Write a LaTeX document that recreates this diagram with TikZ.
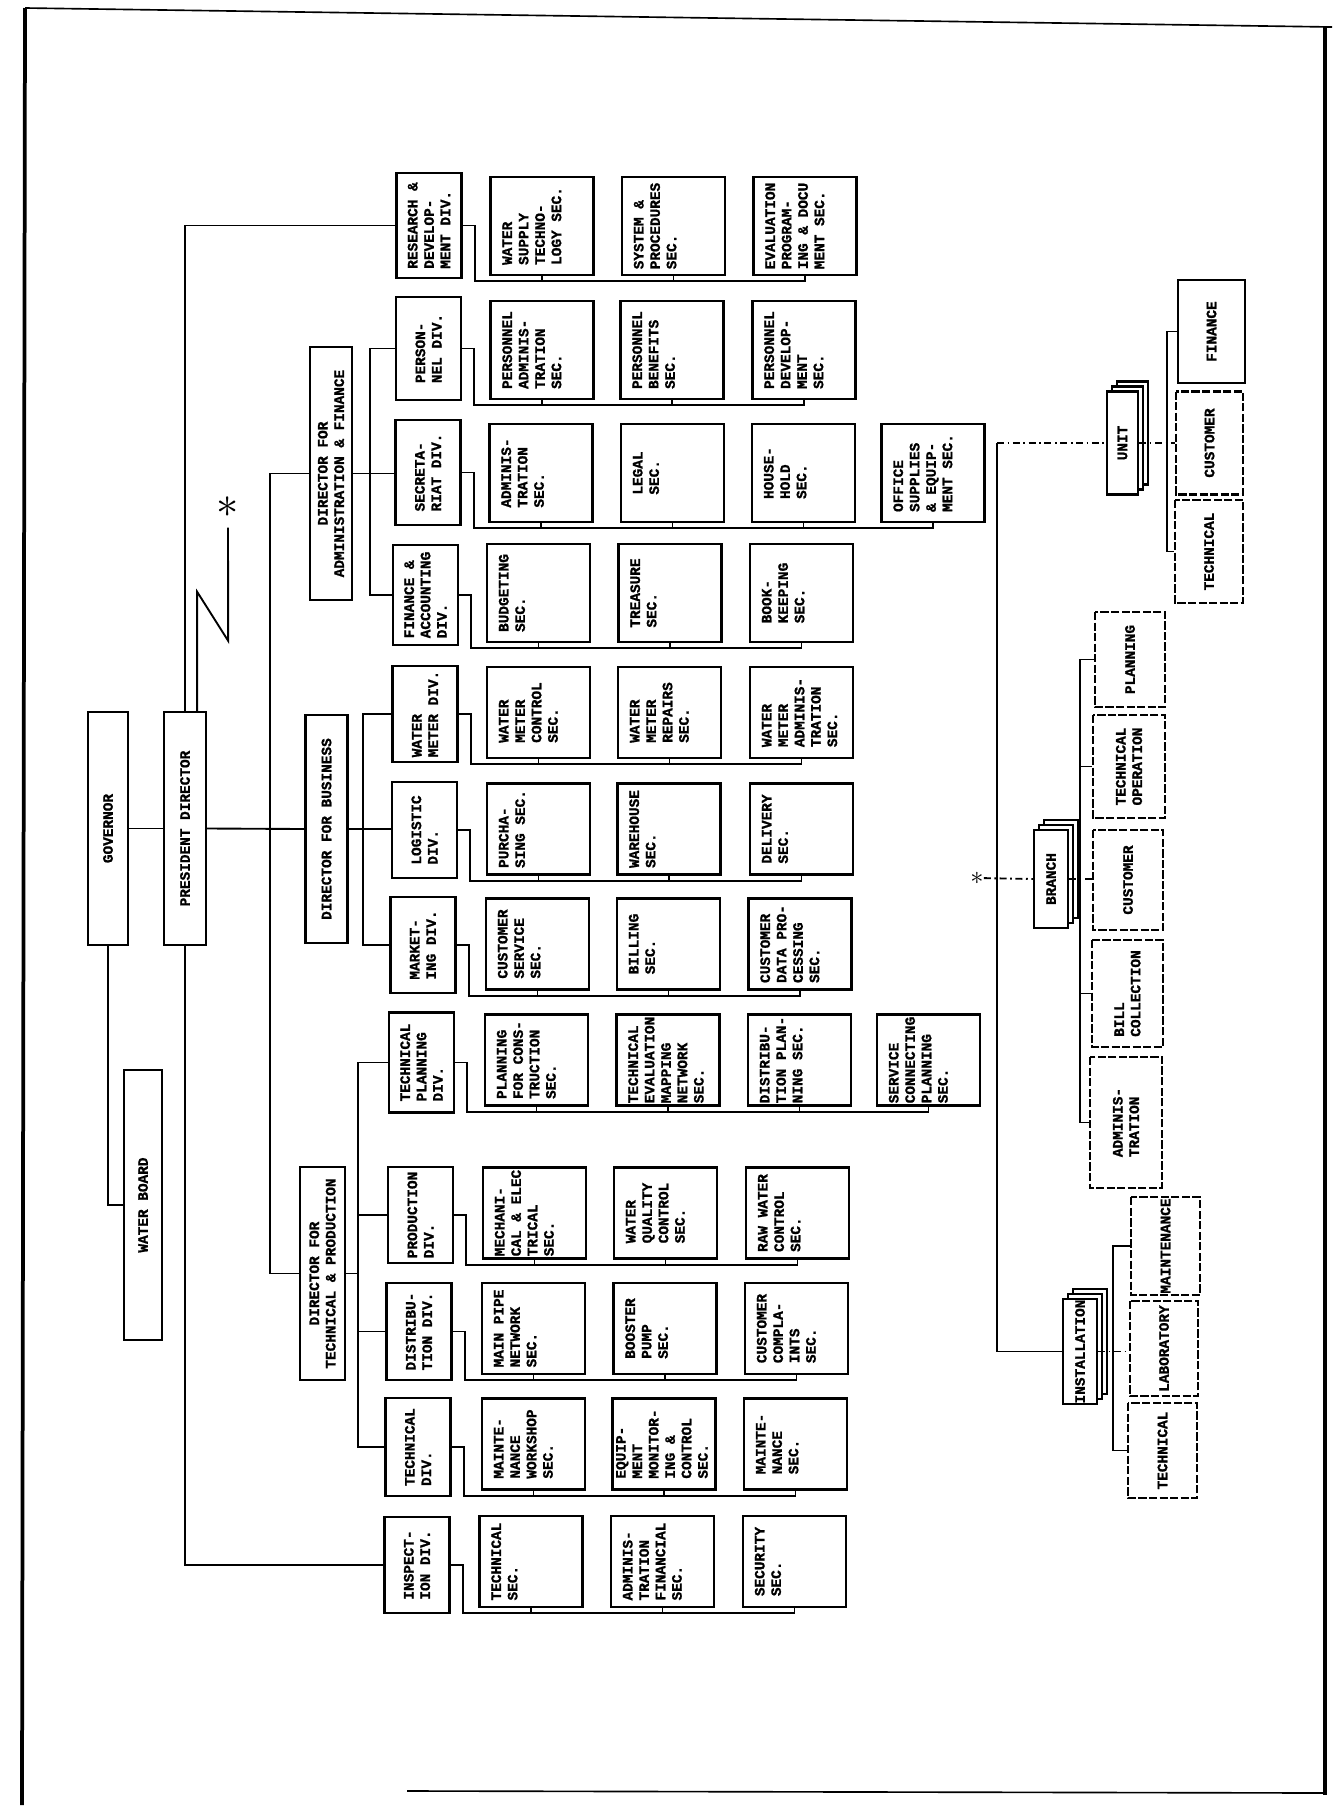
\documentclass[tikz,border=0pt]{standalone}
\usepackage{fontspec}
\newfontfamily\orgfam{Liberation Mono}[BoldFeatures={FakeBold=1.2}]
\usetikzlibrary{calc, shadows}

\newcommand{\orgfont}{\orgfam\bfseries\fontsize{12.3}{14}\selectfont}
\newcommand{\secblock}[3]{\parbox[c][3.09cm][t]{#1}{\vspace{#2}\centering\begin{tabular}{@{}l@{}}#3\end{tabular}}}
\newcommand{\sectxt}[1]{\secblock{2.73cm}{0.3cm}{#1}}
\newcommand{\sectall}[1]{\secblock{2.94cm}{0.3cm}{#1}}
\newcommand{\secsix}[1]{\secblock{2.73cm}{0.05cm}{#1}}

\tikzset{
  box/.style={draw, line width=2pt, rotate=90, fill=white, font=\orgfont, inner sep=1pt},
  head/.style={box, align=center, minimum height=1.26cm},
  div/.style={box, align=left, minimum width=3cm, minimum height=1.95cm},
  sec/.style={draw, line width=2pt, rotate=90, inner sep=0pt, font=\orgfont},
  subbox/.style={div, dash pattern=on 7pt off 2pt},
  stack/.style={box, align=center, inner sep=0pt,
    double copy shadow={shadow xshift=0.15cm, shadow yshift=0.15cm}},
  link/.style={line width=1.6pt},
  dotlink/.style={link, dash pattern=on 6pt off 3pt on 1.5pt off 3pt}
}

\begin{document}
\begin{tikzpicture}[x=0.03cm, y=-0.03cm]
  \useasboundingbox (0,0) rectangle (1332,1814);
  \draw[line width=1.4pt] (25,8) -- (1332,27);
  \draw[line width=3.2pt] (25,8) -- (22,1805);
  \draw[line width=3.2pt] (1325,27) -- (1325,1795);
  \draw[line width=1.4pt] (407,1791) -- (1325,1793);

  \node[head, minimum width=6.99cm, minimum height=1.2cm] (gov) at (108,828.5) {GOVERNOR};
  \node[head, minimum width=6.99cm] (pres) at (185,828.5) {PRESIDENT DIRECTOR};
  \node[head, minimum width=8.1cm, minimum height=1.14cm] (wb) at (143,1205) {WATER BOARD};
  \node[head, minimum width=7.59cm] (dadm) at (331,473.5) {DIRECTOR FOR\\ADMINISTRATION \& FINANCE};
  \node[head, minimum width=6.84cm] (dbus) at (326.5,829) {DIRECTOR FOR BUSINESS};
  \node[head, minimum width=6.39cm, minimum height=1.35cm] (dtec) at (322.5,1273.5) {DIRECTOR FOR\\TECHNICAL \& PRODUCTION};
  \node[inner sep=0pt] (ast1) at (228,507) {\scalebox{2.2}{\LARGE$\ast$}};

  \node[div, minimum width=3.15cm] (rd) at (429,225.5) {RESEARCH \&\\DEVELOP-\\MENT DIV.};
  \node[div, minimum width=3.09cm] (pe) at (428.5,348.5) {PERSON-\\NEL DIV.};
  \node[div, minimum width=3.15cm] (se) at (428,472.5) {SECRETA-\\RIAT DIV.};
  \node[div] (fa) at (425.5,595) {FINANCE \&\\ACCOUNTING\\DIV.};
  \node[div, minimum width=2.88cm] (wm) at (425,714) {WATER\\METER DIV.};
  \node[div, minimum width=2.88cm] (lo) at (424.5,830) {LOGISTIC\\DIV.};
  \node[div, minimum width=2.88cm] (mk) at (423,945) {MARKET-\\ING DIV.};
  \node[div] (tp) at (421.5,1062.5) {TECHNICAL\\PLANNING\\DIV.};
  \node[div, minimum width=2.88cm] (pr) at (420.5,1215) {PRODUCTION\\DIV.};
  \node[div, minimum width=2.91cm] (di) at (419,1331.5) {DISTRIBU-\\TION DIV.};
  \node[div, minimum width=2.94cm] (te) at (418,1447) {TECHNICAL\\DIV.};
  \node[div, minimum width=2.88cm] (ins) at (417,1565) {INSPECT-\\ION DIV.};

  \node[sec] (rd1) at (542,226) {\sectall{WATER\\SUPPLY\\TECHNO-\\LOGY SEC.}};
  \node[sec] (rd2) at (673.5,226) {\sectall{SYSTEM \&\\PROCEDURES\\SEC.}};
  \node[sec] (rd3) at (805,226) {\sectall{EVALUATION\\PROGRAM-\\ING \& DOCU\\MENT SEC.}};
  \node[sec] (pe1) at (542,350) {\sectall{PERSONNEL\\ADMINIS-\\TRATION\\SEC.}};
  \node[sec] (pe2) at (672,350) {\sectall{PERSONNEL\\BENEFITS\\SEC.}};
  \node[sec] (pe3) at (804,350) {\sectall{PERSONNEL\\DEVELOP-\\MENT\\SEC.}};
  \node[sec] (se1) at (541,473) {\sectall{ADMINIS-\\TRATION\\SEC.}};
  \node[sec] (se2) at (672.5,473) {\sectall{LEGAL\\SEC.}};
  \node[sec] (se3) at (803.5,473) {\sectall{HOUSE-\\HOLD\\SEC.}};
  \node[sec] (se4) at (933,473) {\sectall{OFFICE\\SUPPLIES\\\& EQUIP-\\MENT SEC.}};
  \node[sec] (fa1) at (538.5,593) {\sectall{BUDGETING\\SEC.}};
  \node[sec] (fa2) at (670,593) {\sectall{TREASURE\\SEC.}};
  \node[sec] (fa3) at (801.5,593) {\sectall{BOOK-\\KEEPING\\SEC.}};
  \node[sec] (wm1) at (538.5,712.5) {\sectxt{WATER\\METER\\CONTROL\\SEC.}};
  \node[sec] (wm2) at (669.5,712.5) {\sectxt{WATER\\METER\\REPAIRS\\SEC.}};
  \node[sec] (wm3) at (801.5,712.5) {\sectxt{WATER\\METER\\ADMINIS-\\TRATION\\SEC.}};
  \node[sec] (lo1) at (538.5,829) {\sectxt{PURCHA-\\SING SEC.}};
  \node[sec] (lo2) at (669,829) {\sectxt{WAREHOUSE\\SEC.}};
  \node[sec] (lo3) at (801.5,829) {\sectxt{DELIVERY\\SEC.}};
  \node[sec] (mk1) at (537.5,944) {\sectxt{CUSTOMER\\SERVICE\\SEC.}};
  \node[sec] (mk2) at (668.5,944) {\sectxt{BILLING\\SEC.}};
  \node[sec] (mk3) at (800,944) {\sectxt{CUSTOMER\\DATA PRO-\\CESSING\\SEC.}};
  \node[sec] (tp1) at (536.5,1060) {\sectxt{PLANNING\\FOR CONS-\\TRUCTION\\SEC.}};
  \node[sec] (tp2) at (668,1060) {\sectxt{TECHNICAL\\EVALUATION\\MAPPING\\NETWORK\\SEC.}};
  \node[sec] (tp3) at (799.5,1060) {\sectxt{DISTRIBU-\\TION PLAN-\\NING SEC.}};
  \node[sec] (tp4) at (928.5,1060) {\sectxt{SERVICE\\CONNECTING\\PLANNING\\SEC.}};
  \node[sec] (pr1) at (534.5,1213) {\sectxt{MECHANI-\\CAL \& ELEC\\TRICAL\\SEC.}};
  \node[sec] (pr2) at (665.5,1213) {\sectxt{WATER\\QUALITY\\CONTROL\\SEC.}};
  \node[sec] (pr3) at (797.5,1213) {\sectxt{RAW WATER\\CONTROL\\SEC.}};
  \node[sec] (di1) at (533.5,1328.5) {\sectxt{MAIN PIPE\\NETWORK\\SEC.}};
  \node[sec] (di2) at (665,1328.5) {\sectxt{BOOSTER\\PUMP\\SEC.}};
  \node[sec] (di3) at (796.5,1328.5) {\sectxt{CUSTOMER\\COMPLA-\\INTS\\SEC.}};
  \node[sec] (te1) at (533.5,1444) {\sectxt{MAINTE-\\NANCE\\WORKSHOP\\SEC.}};
  \node[sec] (te2) at (664,1444) {\secsix{EQUIP-\\MENT\\MONITOR-\\ING \&\\CONTROL\\SEC.}};
  \node[sec] (te3) at (795.5,1444) {\sectxt{MAINTE-\\NANCE\\SEC.}};
  \node[sec] (ins1) at (531,1561.5) {\sectxt{TECHNICAL\\SEC.}};
  \node[sec] (ins2) at (662.5,1561.5) {\sectxt{ADMINIS-\\TRATION\\FINANCIAL\\SEC.}};
  \node[sec] (ins3) at (794.5,1561.5) {\sectxt{SECURITY\\SEC.}};

  \node[stack, minimum width=3.09cm, minimum height=0.93cm] (unit) at (1122.5,443) {UNIT};
  \node[div, minimum width=3.09cm, minimum height=2.01cm] (ufi) at (1211.5,331.5) {FINANCE};
  \node[subbox, minimum width=3.09cm, minimum height=2.01cm] (ucu) at (1209.5,443) {CUSTOMER};
  \node[subbox, minimum width=3.09cm, minimum height=2.04cm] (ute) at (1209,551.5) {TECHNICAL};
  \node[inner sep=0pt] (ast2) at (977,878) {\scalebox{1.3}{\LARGE$\ast$}};
  \node[stack, minimum width=2.94cm, minimum height=1.02cm] (branch) at (1051,879) {BRANCH};
  \node[subbox, minimum width=2.85cm, minimum height=2.1cm] (bpl) at (1130,659.5) {PLANNING};
  \node[subbox, minimum width=3.09cm, minimum height=2.16cm] (bto) at (1129,766.5) {TECHNICAL\\OPERATION};
  \node[subbox, minimum width=3cm, minimum height=2.1cm] (bcu) at (1128,880) {CUSTOMER};
  \node[subbox, minimum width=3.21cm, minimum height=2.13cm] (bbc) at (1127.5,993.5) {BILL\\COLLECTION};
  \node[subbox, minimum width=3.93cm, minimum height=2.16cm] (bad) at (1126,1122.5) {ADMINIS-\\TRATION};
  \node[stack, minimum width=3.15cm, minimum height=1.02cm] (inst) at (1080,1351.5) {INSTALLATION};
  \node[subbox, minimum width=2.88cm, minimum height=2.07cm] (imt) at (1165.5,1246) {MAINTENANCE};
  \node[subbox, minimum width=2.85cm, minimum height=2.04cm] (ila) at (1164,1348.5) {LABORATORY};
  \node[subbox, minimum width=2.85cm, minimum height=2.07cm] (ite) at (1162.5,1450.5) {TECHNICAL};

  \coordinate (dsp) at (270,829);
  \coordinate (asp) at (370,473);
  \coordinate (bsp) at (363,829);
  \coordinate (tsp) at (358,1273.5);

  \draw[link] (gov.south) -- (pres.north);
  \draw[link] (gov.west) |- (wb.north);
  \draw[link] (pres.east) |- (rd.north);
  \draw[link] (pres.west) |- (ins.north);
  \draw[link] (pres.south) -- (dbus.north);
  \draw[link, shorten >=0.3cm] ($(pres.south east)+(-10,0)$) -- ++(0,-119) -- ++(31,49) -- (ast1.south);
  \draw[link] (dadm.north) -| (dsp) |- (dtec.north);

  \draw[link] (dadm.south) -- (dadm.south -| se.north);
  \draw[link] (pe.north) -| (asp) |- (fa.north);
  \draw[link] (dbus.south) -- (dbus.south -| lo.north);
  \draw[link] (wm.north) -| (bsp) |- (mk.north);
  \draw[link] (dtec.south) -- (tsp);
  \draw[link] (tp.north) -| (tsp) |- (te.north);
  \draw[link] (pr.north) -- (pr.north -| tsp);
  \draw[link] (di.north) -- (di.north -| tsp);

  \foreach \r/\l in {rd/3,pe/3,se/4,fa/3,wm/3,lo/3,mk/3,tp/4,pr/3,di/3,te/3,ins/3} {
    \draw[link] (\r.south) -- ++(12,0) |- ($(\r\l.west)+(0,5)$) -- (\r\l.west);
    \foreach \s in {1,...,\l} {\draw[link] (\r\s.west) -- ++(0,5);}
  }

  \coordinate (rsp) at (997,443);
  \coordinate (usp) at (1167,443);
  \coordinate (bsq) at (1080,880);
  \coordinate (isp) at (1113,1348.5);

  \draw[dotlink] (rsp) -- (unit.north);
  \draw[link] (rsp) |- (inst.north);
  \draw[dotlink] (unit.south) -- (ucu.north);
  \draw[link] (ufi.north) -| (usp) |- (ute.north);
  \draw[dotlink] (ast2) -- (branch.north);
  \draw[dotlink] (branch.south) -- (branch.south -| bcu.north);
  \draw[link] (bpl.north) -| (bsq) |- (bad.north);
  \draw[link] (bto.north) -- (bto.north -| bsq);
  \draw[link] (bbc.north) -- (bbc.north -| bsq);
  \draw[dotlink] (inst.south) -- (inst.south -| ila.north);
  \draw[link] (imt.north) -| (isp) |- (ite.north);
\end{tikzpicture}
\end{document}
